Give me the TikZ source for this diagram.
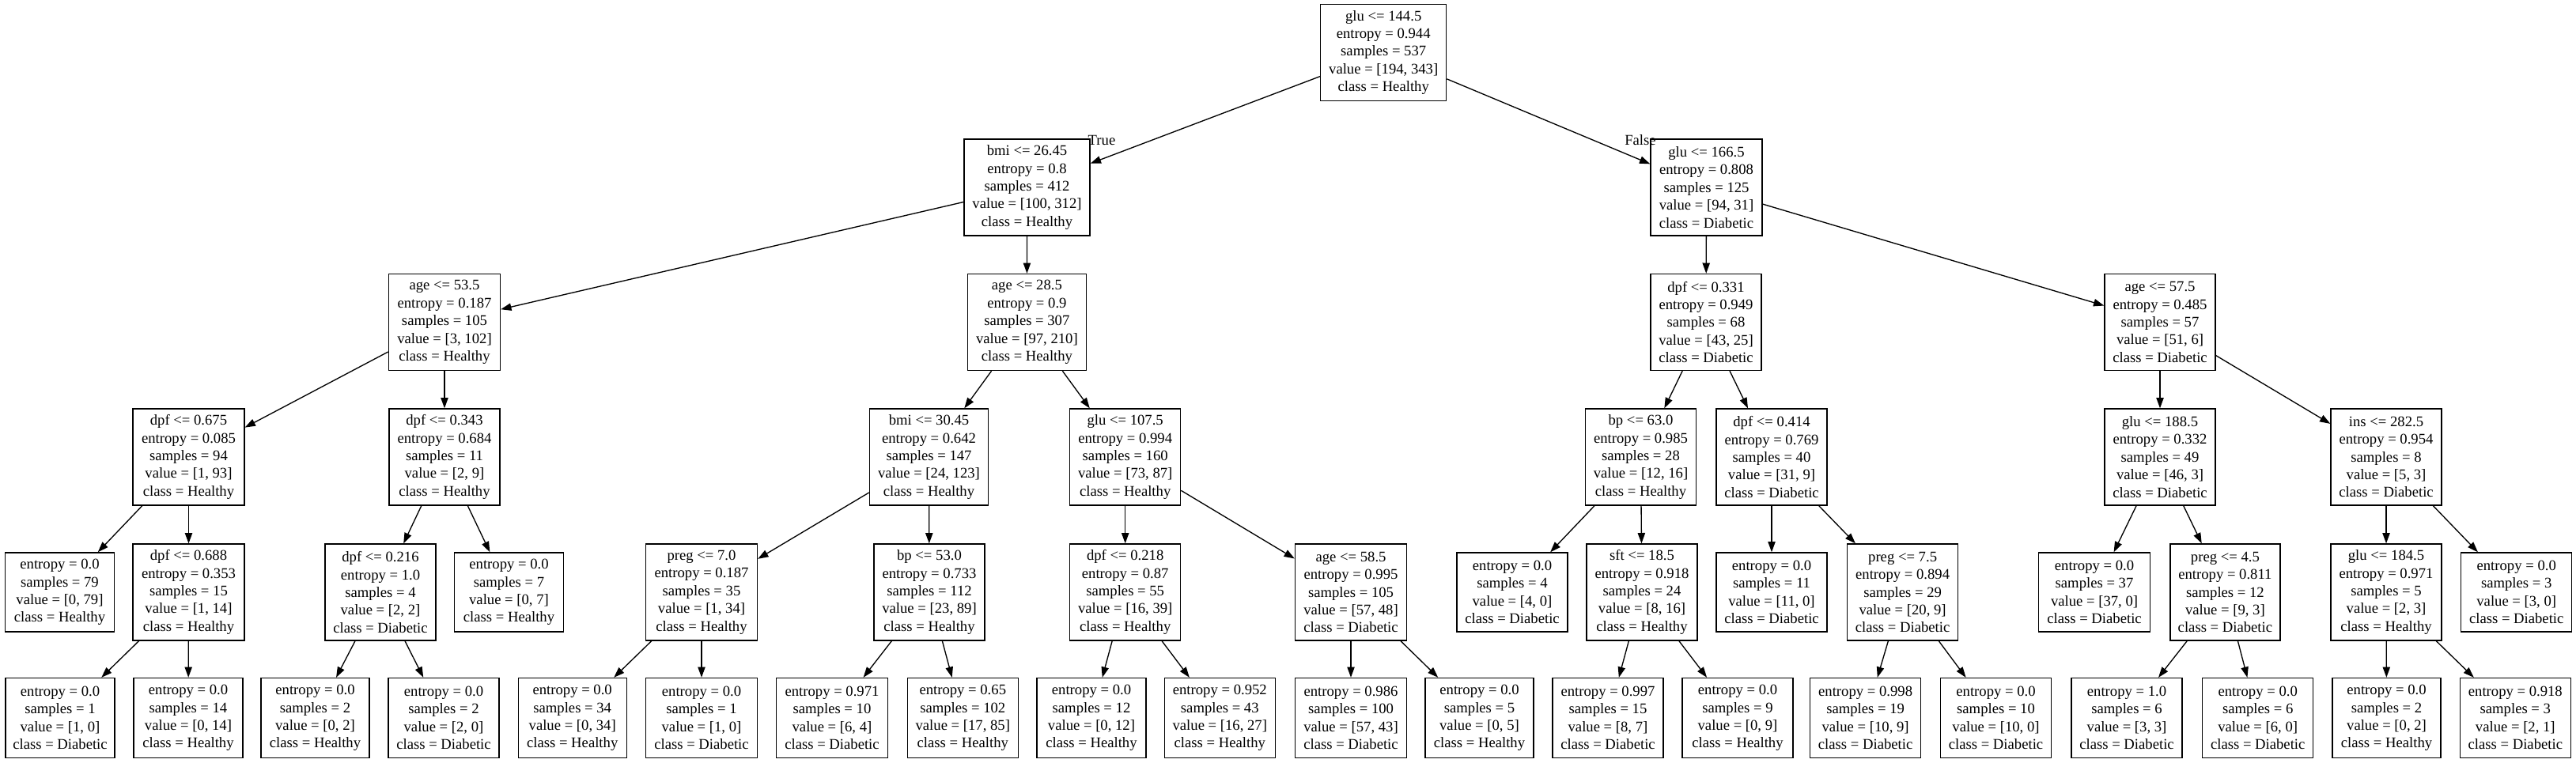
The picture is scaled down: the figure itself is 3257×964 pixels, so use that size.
\documentclass[tikz,border=0pt]{standalone}
\usepackage{fontspec}
\setmainfont{Liberation Serif}
\usetikzlibrary{arrows.meta}
\tikzset{
  tnode/.style={draw, line width=1.33pt, minimum width=#1pt, minimum height=122pt, inner sep=0pt, align=center, font=\fontsize{18.67pt}{22.4pt}\selectfont},
  tleaf/.style={tnode=#1, minimum height=100pt},
  tleafb/.style={tnode=#1, minimum height=101pt},
  conn/.style={line width=1.33pt, -{Triangle[length=13.33pt,width=9.33pt]}},
  elbl/.style={inner sep=0pt, font=\fontsize{18.67pt}{22.4pt}\selectfont}
}
\begin{document}
\begin{tikzpicture}[x=1pt,y=-1pt]
\useasboundingbox (0,0) rectangle (3257,964);
% level 0
\node[tnode=159] (n0) at (1749.2,66.4) {glu <= 144.5\\entropy = 0.944\\samples = 537\\value = [194, 343]\\class = Healthy};
% level 1
\node[tnode=159] (n1) at (1298.5,237) {bmi <= 26.45\\entropy = 0.8\\samples = 412\\value = [100, 312]\\class = Healthy};
\node[tnode=141] (n2) at (2157.5,237) {glu <= 166.5\\entropy = 0.808\\samples = 125\\value = [94, 31]\\class = Diabetic};
% level 2
\node[tnode=141] (n3) at (562,407.5) {age <= 53.5\\entropy = 0.187\\samples = 105\\value = [3, 102]\\class = Healthy};
\node[tnode=150] (n4) at (1298.4,407.5) {age <= 28.5\\entropy = 0.9\\samples = 307\\value = [97, 210]\\class = Healthy};
\node[tnode=140] (n5) at (2157,407.5) {dpf <= 0.331\\entropy = 0.949\\samples = 68\\value = [43, 25]\\class = Diabetic};
\node[tnode=140] (n6) at (2731,407.5) {age <= 57.5\\entropy = 0.485\\samples = 57\\value = [51, 6]\\class = Diabetic};
% level 3
\node[tnode=141] (n7) at (238.5,578) {dpf <= 0.675\\entropy = 0.085\\samples = 94\\value = [1, 93]\\class = Healthy};
\node[tnode=140] (n8) at (562,578) {dpf <= 0.343\\entropy = 0.684\\samples = 11\\value = [2, 9]\\class = Healthy};
\node[tnode=150] (n9) at (1174.5,578) {bmi <= 30.45\\entropy = 0.642\\samples = 147\\value = [24, 123]\\class = Healthy};
\node[tnode=140] (n10) at (1422.7,578) {glu <= 107.5\\entropy = 0.994\\samples = 160\\value = [73, 87]\\class = Healthy};
\node[tnode=140] (n11) at (2074.5,578) {bp <= 63.0\\entropy = 0.985\\samples = 28\\value = [12, 16]\\class = Healthy};
\node[tnode=140] (n12) at (2240,578) {dpf <= 0.414\\entropy = 0.769\\samples = 40\\value = [31, 9]\\class = Diabetic};
\node[tnode=140] (n13) at (2731,578) {glu <= 188.5\\entropy = 0.332\\samples = 49\\value = [46, 3]\\class = Diabetic};
\node[tnode=140] (n14) at (3017,578) {ins <= 282.5\\entropy = 0.954\\samples = 8\\value = [5, 3]\\class = Diabetic};
% level 4
\node[tleaf=138] (l1) at (75.5,749) {entropy = 0.0\\samples = 79\\value = [0, 79]\\class = Healthy};
\node[tnode=141] (n15) at (238.5,749) {dpf <= 0.688\\entropy = 0.353\\samples = 15\\value = [1, 14]\\class = Healthy};
\node[tnode=140] (n16) at (481,749) {dpf <= 0.216\\entropy = 1.0\\samples = 4\\value = [2, 2]\\class = Diabetic};
\node[tleaf=138] (l2) at (643.5,749) {entropy = 0.0\\samples = 7\\value = [0, 7]\\class = Healthy};
\node[tnode=141] (n17) at (887,749) {preg <= 7.0\\entropy = 0.187\\samples = 35\\value = [1, 34]\\class = Healthy};
\node[tnode=140] (n18) at (1175,749) {bp <= 53.0\\entropy = 0.733\\samples = 112\\value = [23, 89]\\class = Healthy};
\node[tnode=140] (n19) at (1422.7,749) {dpf <= 0.218\\entropy = 0.87\\samples = 55\\value = [16, 39]\\class = Healthy};
\node[tnode=141] (n20) at (1708,749) {age <= 58.5\\entropy = 0.995\\samples = 105\\value = [57, 48]\\class = Diabetic};
\node[tleaf=140] (l3) at (1912,749) {entropy = 0.0\\samples = 4\\value = [4, 0]\\class = Diabetic};
\node[tnode=140] (n21) at (2076,749) {sft <= 18.5\\entropy = 0.918\\samples = 24\\value = [8, 16]\\class = Healthy};
\node[tleaf=140] (l4) at (2240,749) {entropy = 0.0\\samples = 11\\value = [11, 0]\\class = Diabetic};
\node[tnode=140] (n22) at (2405.6,749) {preg <= 7.5\\entropy = 0.894\\samples = 29\\value = [20, 9]\\class = Diabetic};
\node[tleaf=141] (l5) at (2648,749) {entropy = 0.0\\samples = 37\\value = [37, 0]\\class = Diabetic};
\node[tnode=139] (n23) at (2813.4,749) {preg <= 4.5\\entropy = 0.811\\samples = 12\\value = [9, 3]\\class = Diabetic};
\node[tnode=140] (n24) at (3017,749) {glu <= 184.5\\entropy = 0.971\\samples = 5\\value = [2, 3]\\class = Healthy};
\node[tleaf=140] (l6) at (3181.7,749) {entropy = 0.0\\samples = 3\\value = [3, 0]\\class = Diabetic};
% level 5
\node[tleafb=138] (l7) at (76,908) {entropy = 0.0\\samples = 1\\value = [1, 0]\\class = Diabetic};
\node[tleafb=138] (l8) at (238,908) {entropy = 0.0\\samples = 14\\value = [0, 14]\\class = Healthy};
\node[tleafb=137] (l9) at (398.5,908) {entropy = 0.0\\samples = 2\\value = [0, 2]\\class = Healthy};
\node[tleafb=140] (l10) at (561,908) {entropy = 0.0\\samples = 2\\value = [2, 0]\\class = Diabetic};
\node[tleafb=137] (l11) at (723.7,908) {entropy = 0.0\\samples = 34\\value = [0, 34]\\class = Healthy};
\node[tleafb=141] (l12) at (887,908) {entropy = 0.0\\samples = 1\\value = [1, 0]\\class = Diabetic};
\node[tleafb=141] (l13) at (1052,908) {entropy = 0.971\\samples = 10\\value = [6, 4]\\class = Diabetic};
\node[tleafb=140] (l14) at (1217.3,908) {entropy = 0.65\\samples = 102\\value = [17, 85]\\class = Healthy};
\node[tleafb=138] (l15) at (1380,908) {entropy = 0.0\\samples = 12\\value = [0, 12]\\class = Healthy};
\node[tleafb=140] (l16) at (1542.3,908) {entropy = 0.952\\samples = 43\\value = [16, 27]\\class = Healthy};
\node[tleafb=141] (l17) at (1708,908) {entropy = 0.986\\samples = 100\\value = [57, 43]\\class = Diabetic};
\node[tleafb=137] (l18) at (1870.5,908) {entropy = 0.0\\samples = 5\\value = [0, 5]\\class = Healthy};
\node[tleafb=140] (l19) at (2033,908) {entropy = 0.997\\samples = 15\\value = [8, 7]\\class = Diabetic};
\node[tleafb=140] (l20) at (2197,908) {entropy = 0.0\\samples = 9\\value = [0, 9]\\class = Healthy};
\node[tleafb=140] (l21) at (2358.6,908) {entropy = 0.998\\samples = 19\\value = [10, 9]\\class = Diabetic};
\node[tleafb=140] (l22) at (2523.5,908) {entropy = 0.0\\samples = 10\\value = [10, 0]\\class = Diabetic};
\node[tleafb=140] (l23) at (2689,908) {entropy = 1.0\\samples = 6\\value = [3, 3]\\class = Diabetic};
\node[tleafb=140] (l24) at (2854.7,908) {entropy = 0.0\\samples = 6\\value = [6, 0]\\class = Diabetic};
\node[tleafb=137] (l25) at (3017.5,908) {entropy = 0.0\\samples = 2\\value = [0, 2]\\class = Healthy};
\node[tleafb=140] (l26) at (3180.3,908) {entropy = 0.918\\samples = 3\\value = [2, 1]\\class = Diabetic};
% edge labels
\node[elbl] (tlbl) at (1393,177) {True};
\node[elbl] (flbl) at (2074,177) {False};
% connectors
\draw[conn] (n0) -- (n1);
\draw[conn] (n0) -- (n2);
\draw[conn] (n1) -- (n3);
\draw[conn] (n1) -- (n4);
\draw[conn] (n2) -- (n5);
\draw[conn] (n2) -- (n6);
\draw[conn] (n3) -- (n7);
\draw[conn] (n3) -- (n8);
\draw[conn] (n4) -- (n9);
\draw[conn] (n4) -- (n10);
\draw[conn] (n5) -- (n11);
\draw[conn] (n5) -- (n12);
\draw[conn] (n6) -- (n13);
\draw[conn] (n6) -- (n14);
\draw[conn] (n7) -- (l1);
\draw[conn] (n7) -- (n15);
\draw[conn] (n8) -- (n16);
\draw[conn] (n8) -- (l2);
\draw[conn] (n9) -- (n17);
\draw[conn] (n9) -- (n18);
\draw[conn] (n10) -- (n19);
\draw[conn] (n10) -- (n20);
\draw[conn] (n11) -- (l3);
\draw[conn] (n11) -- (n21);
\draw[conn] (n12) -- (l4);
\draw[conn] (n12) -- (n22);
\draw[conn] (n13) -- (l5);
\draw[conn] (n13) -- (n23);
\draw[conn] (n14) -- (n24);
\draw[conn] (n14) -- (l6);
\draw[conn] (n15) -- (l7);
\draw[conn] (n15) -- (l8);
\draw[conn] (n16) -- (l9);
\draw[conn] (n16) -- (l10);
\draw[conn] (n17) -- (l11);
\draw[conn] (n17) -- (l12);
\draw[conn] (n18) -- (l13);
\draw[conn] (n18) -- (l14);
\draw[conn] (n19) -- (l15);
\draw[conn] (n19) -- (l16);
\draw[conn] (n20) -- (l17);
\draw[conn] (n20) -- (l18);
\draw[conn] (n21) -- (l19);
\draw[conn] (n21) -- (l20);
\draw[conn] (n22) -- (l21);
\draw[conn] (n22) -- (l22);
\draw[conn] (n23) -- (l23);
\draw[conn] (n23) -- (l24);
\draw[conn] (n24) -- (l25);
\draw[conn] (n24) -- (l26);
\end{tikzpicture}
\end{document}
